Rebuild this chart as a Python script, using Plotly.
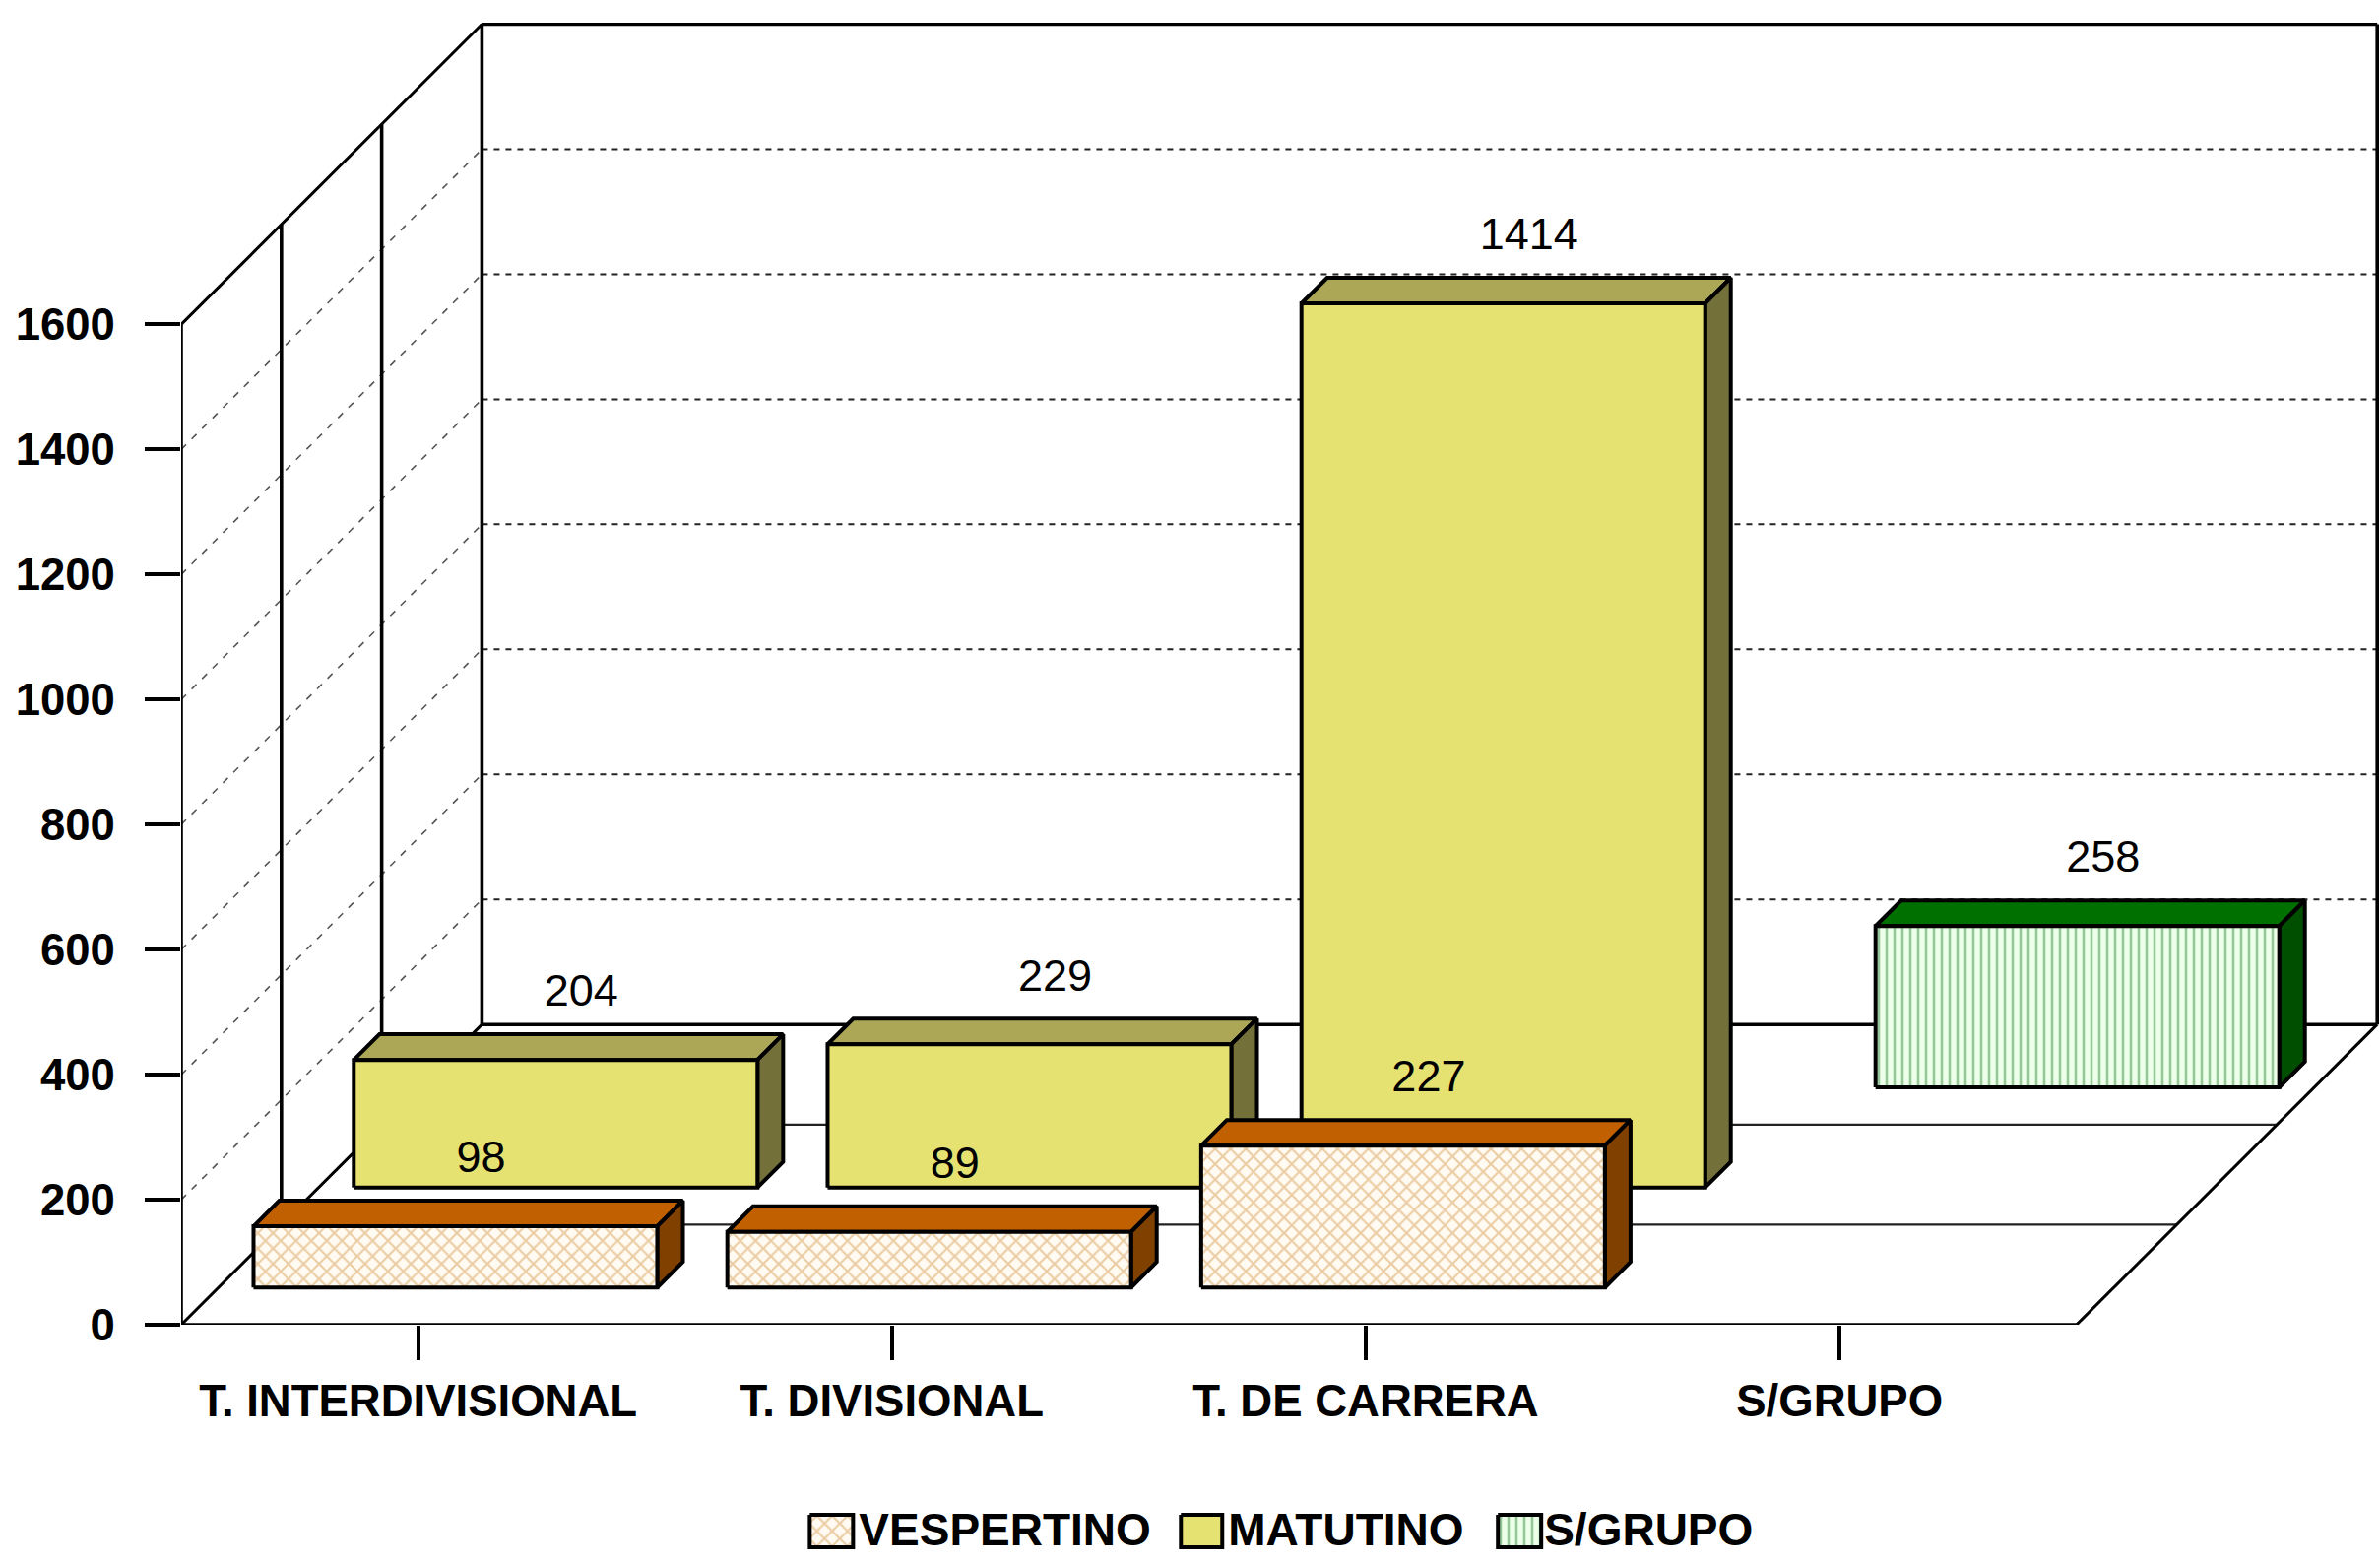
import plotly.graph_objects as go

# ---------- data ----------
categories = ["T. INTERDIVISIONAL", "T. DIVISIONAL", "T. DE CARRERA", "S/GRUPO"]
vespertino = [98, 89, 227, None]
matutino = [204, 229, 1414, None]
s_grupo = [None, None, None, 258]
y_ticks = [0, 200, 400, 600, 800, 1000, 1200, 1400, 1600]
series_names = ["VESPERTINO", "MATUTINO", "S/GRUPO"]

# ---------- page geometry ----------
W, H = 2417, 1591
PLOT_LEFT, PLOT_TOP, PLOT_RIGHT, PLOT_BOTTOM = 183.5, 22.5, 2416.0, 1590.0
FLOOR_Y = 1345.0
LEGEND_TOP = 1500.0

# ---------- oblique projection (axis units) ----------
CAT_PX = 481.3
VAL_PX = 0.635
DEPTH_X = 305.5 / CAT_PX      # x shift of the full floor depth
DEPTH_Y = 305.0 / VAL_PX      # y shift of the full floor depth
N_ROWS = 3
BAR_W = 0.852
BAR_D = 0.256                 # bar depth as fraction of a row
YMAX_WALL = 1600
LW = 3.6
BAR_LW = 4.0
INK = "#000000"


def proj(cat, val, depth):
    return cat + DEPTH_X * depth, val + DEPTH_Y * depth


fig = go.Figure()


def line(points, width=LW, color=INK, dash=None):
    xs, ys = zip(*[proj(*p) for p in points])
    fig.add_trace(go.Scatter(x=xs, y=ys, mode="lines", cliponaxis=False, showlegend=False,
                             hoverinfo="skip",
                             line=dict(color=color, width=width, dash=dash)))


def poly(xs, ys, fill, pattern=None, width=BAR_LW, axes=("x", "y")):
    kw = dict(fillpattern=pattern) if pattern else {}
    fig.add_trace(go.Scatter(x=list(xs) + [xs[0]], y=list(ys) + [ys[0]], mode="lines",
                             xaxis=axes[0], yaxis=axes[1],
                             fill="toself", fillcolor=fill, cliponaxis=False, showlegend=False,
                             hoverinfo="skip", line=dict(color=INK, width=width), **kw))


n_cat = len(categories)

# dashed gridlines: side wall and back wall
for v in y_ticks[1:-1]:
    line([(0, v, 0), (0, v, 1)], width=1.6, color="#555555", dash="7px,8px")
    line([(0, v, 1), (n_cat, v, 1)], width=2, color="#222222", dash="6px,6px")

# walls, floor
line([(0, 0, 0), (0, YMAX_WALL, 0)])
line([(0, YMAX_WALL, 0), (0, YMAX_WALL, 1)], width=3)
for r in range(1, N_ROWS + 1):
    line([(0, 0, r / N_ROWS), (0, YMAX_WALL, r / N_ROWS)])
line([(0, YMAX_WALL, 1), (n_cat, YMAX_WALL, 1)])
line([(n_cat, 0, 1), (n_cat, YMAX_WALL, 1)])
line([(0, 0, 1), (n_cat, 0, 1)])
for r in range(1, N_ROWS):
    line([(0, 0, r / N_ROWS), (n_cat, 0, r / N_ROWS)], width=2.2, color="#222222")
line([(0, 0, 0), (0, 0, 1)], width=3)
line([(n_cat, 0, 0), (n_cat, 0, 1)], width=3)
line([(0, 0, 0), (n_cat, 0, 0)])

# bar styling per series
cross = dict(shape="x", size=11, solidity=0.36, fgcolor="#D89E55", bgcolor="#FFFBF2")
vert = dict(shape="|", size=8, solidity=0.32, fgcolor="#3F8F48", bgcolor="#ECFFE8")
yellow = "#E6E272"
styles = {
    "VESPERTINO": dict(front="#FFFBF2", pattern=cross, top="#C06000", side="#804000"),
    "MATUTINO": dict(front=yellow, pattern=None, top="#ABA757", side="#73703A"),
    "S/GRUPO": dict(front="#ECFFE8", pattern=vert, top="#007000", side="#004F00"),
}

label_x, label_y, label_t = [], [], []


def bars(values, name, row):
    st = styles[name]
    d0 = (row + (1 - BAR_D) / 2) / N_ROWS
    d1 = (row + (1 + BAR_D) / 2) / N_ROWS
    for i, v in enumerate(values):
        if v is None:
            continue
        c0 = i + (1 - BAR_W) / 2
        c1 = i + (1 + BAR_W) / 2
        a = proj(c0, 0, d0); b = proj(c1, 0, d0)
        c = proj(c1, v, d0); e = proj(c0, v, d0)
        f = proj(c0, v, d1); g = proj(c1, v, d1); h = proj(c1, 0, d1)
        poly([e[0], f[0], g[0], c[0]], [e[1], f[1], g[1], c[1]], st["top"])
        poly([b[0], c[0], g[0], h[0]], [b[1], c[1], g[1], h[1]], st["side"])
        poly([a[0], b[0], c[0], e[0]], [a[1], b[1], c[1], e[1]], st["front"], st["pattern"])
        lx, ly = proj(i + 0.5, v, d1)
        label_x.append(lx)
        label_y.append(ly + 40 / VAL_PX)
        label_t.append(str(v))


bars(s_grupo, "S/GRUPO", 2)
bars(matutino, "MATUTINO", 1)
bars(vespertino, "VESPERTINO", 0)

# value labels
fig.add_trace(go.Scatter(x=label_x, y=label_y, text=label_t, mode="text", cliponaxis=False,
                         textposition="middle center", showlegend=False, hoverinfo="skip",
                         textfont=dict(family="Liberation Sans", size=45, color="#000000")))

# legend drawn in its own strip, whose axes run in page pixels
legend_swatch_px = [(822, 866), (1199, 1241), (1521, 1565)]
legend_text_px = [872, 1247, 1568]
for (x0, x1), tx, name in zip(legend_swatch_px, legend_text_px, series_names):
    st = styles[name]
    poly([x0, x1, x1, x0], [1538, 1538, 1571, 1571], st["front"], st["pattern"], axes=("x2", "y2"))
    fig.add_trace(go.Scatter(x=[tx], y=[1558], text=[name], mode="text", xaxis="x2", yaxis="y2",
                             textposition="middle right", showlegend=False,
                             hoverinfo="skip",
                             textfont=dict(family="Liberation Sans", size=46, color="#000000",
                                           weight="bold")))

plot_h = PLOT_BOTTOM - PLOT_TOP
tick_font = dict(family="Liberation Sans", size=45.5, color="#000000", weight="bold")
fig.update_layout(
    width=W, height=H, autosize=False,
    margin=dict(l=PLOT_LEFT, r=W - PLOT_RIGHT, t=PLOT_TOP, b=H - PLOT_BOTTOM, pad=0),
    paper_bgcolor="#FFFFFF", plot_bgcolor="rgba(0,0,0,0)",
    showlegend=False,
    xaxis=dict(range=[0, (PLOT_RIGHT - PLOT_LEFT) / CAT_PX], tickmode="array",
               tickvals=[i + 0.5 for i in range(n_cat)], ticktext=categories,
               ticks="outside", ticklen=35, tickwidth=LW, tickcolor=INK, automargin=False,
               showgrid=False, zeroline=False, showline=False, tickfont=tick_font,
               ticklabelstandoff=2, fixedrange=True),
    yaxis=dict(domain=[(PLOT_BOTTOM - FLOOR_Y) / plot_h, 1],
               range=[0, (FLOOR_Y - PLOT_TOP) / VAL_PX], tickmode="array", tickvals=y_ticks,
               ticks="outside", ticklen=36, tickwidth=LW, tickcolor=INK, automargin=False,
               showgrid=False, zeroline=False, showline=False, tickfont=tick_font,
               ticklabelstandoff=21, fixedrange=True),
    xaxis2=dict(domain=[0, 1], range=[PLOT_LEFT, PLOT_RIGHT], visible=False, anchor="y2",
                automargin=False, fixedrange=True),
    yaxis2=dict(domain=[0, (PLOT_BOTTOM - LEGEND_TOP) / plot_h], range=[PLOT_BOTTOM, LEGEND_TOP],
                visible=False, anchor="x2", automargin=False, fixedrange=True),
)
fig.write_html("out.html", config={"displayModeBar": False},
               post_script="document.body.style.margin='0';")
